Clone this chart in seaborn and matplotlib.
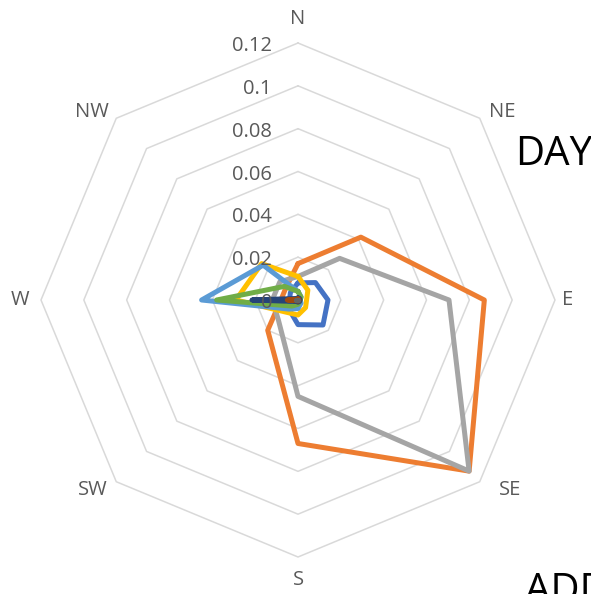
import numpy as np
import pandas as pd
import matplotlib
matplotlib.use("Agg")
import matplotlib.pyplot as plt
from matplotlib.transforms import offset_copy
import seaborn as sns

# categories and axis ticks
directions = ["N", "NE", "E", "SE", "S", "SW", "W", "NW"]
radial_ticks = [0, 0.02, 0.04, 0.06, 0.08, 0.1, 0.12]
radial_labels = ["0", "0.02", "0.04", "0.06", "0.08", "0.1", "0.12"]

# series values (order N..NW)
series_names = ["1", "2", "3", "4", "5", "6", "7", "8", "9"]
s1 = [0.008, 0.0115, 0.014, 0.0165, 0.0115, 0.006, 0.004, 0.005]
s2 = [0.017, 0.0415, 0.087, 0.113, 0.067, 0.020, 0.008, 0.008]
s3 = [0.011, 0.0275, 0.0705, 0.113, 0.045, 0.013, 0.012, 0.012]
s4 = [0.011, 0.0065, 0.004, 0.005, 0.007, 0.008, 0.029, 0.024]
s5 = [0.004, 0.002, 0.001, 0.002, 0.004, 0.006, 0.045, 0.023]
s6 = [0.004, 0.002, 0.001, 0.001, 0.002, 0.004, 0.038, 0.009]
s7 = [0.001, 0.001, 0.001, 0.001, 0.001, 0.001, 0.0215, 0.001]
s8 = [0.0005, 0.0005, 0.0005, 0.0005, 0.0005, 0.0005, 0.005, 0.0005]
s9 = [0.0, 0.0, 0.0, 0.0, 0.0, 0.0, 0.001, 0.0]
all_series = [s1, s2, s3, s4, s5, s6, s7, s8, s9]

colors = ["#4472C4", "#ED7D31", "#A5A5A5", "#FFC000", "#5B9BD5",
          "#70AD47", "#264478", "#9E480E", "#636363"]

sns.set_theme(style="white")
plt.rcParams["font.family"] = ["Open Sans", "DejaVu Sans"]

angles = np.arange(len(directions)) * 2 * np.pi / len(directions)
closed = np.append(angles, 2 * np.pi)

rows = []
for name, vals in zip(series_names, all_series):
    vv = list(vals) + [vals[0]]
    for t, v in zip(closed, vv):
        rows.append({"series": name, "theta": t, "value": v})
df = pd.DataFrame(rows)

fig = plt.figure(figsize=(5.91, 5.94), dpi=100)
ax = fig.add_axes([41 / 591, 37 / 594, 514 / 591, 514 / 594], projection="polar")
ax.set_theta_zero_location("N")
ax.set_theta_direction(-1)
ax.set_ylim(0, 0.12)
ax.grid(False)
ax.spines["polar"].set_visible(False)
ax.set_xticks([])
ax.set_yticks([])

# octagon gridlines
for lvl in radial_ticks[1:]:
    ax.plot(closed, [lvl] * len(closed), color="#D9D9D9", lw=1.1, zorder=1, clip_on=False)

sns.lineplot(data=df, x="theta", y="value", hue="series", hue_order=series_names,
             palette=colors, sort=False, estimator=None, units="series",
             lw=3.6, solid_joinstyle="round", solid_capstyle="round",
             legend=False, ax=ax, zorder=3)
for ln in ax.lines:
    ln.set_clip_on(False)
ax.set_xlabel("")
ax.set_ylabel("")

# radial value labels, left of the N axis
for lvl, lab in zip(radial_ticks, radial_labels):
    tr = offset_copy(ax.transData, fig=fig, x=-26, y=-3, units="dots")
    ax.text(0, lvl, lab, transform=tr, ha="right", va="center",
            fontsize=14.5, color="#595959", zorder=4)

# direction labels outside the outer octagon
label_offsets = [(0, 24), (23, 6), (13, 0), (30, -8), (0, -23), (-23, -8), (-21, 0), (-24, 6)]
for t, lab, (dx, dy) in zip(angles, directions, label_offsets):
    tr = offset_copy(ax.transData, fig=fig, x=dx, y=dy, units="dots")
    ax.text(t, 0.12, lab, transform=tr, ha="center", va="center",
            fontsize=14.5, color="#595959", clip_on=False)

fig.text(515 / 591, 1 - 165 / 594, "DAY", fontsize=29, color="black",
         ha="left", va="baseline")
fig.text(525 / 591, 1 - 572 / 594, "ADD", fontsize=29, color="black",
         ha="left", va="top")

fig.savefig("out.png", dpi=100)
